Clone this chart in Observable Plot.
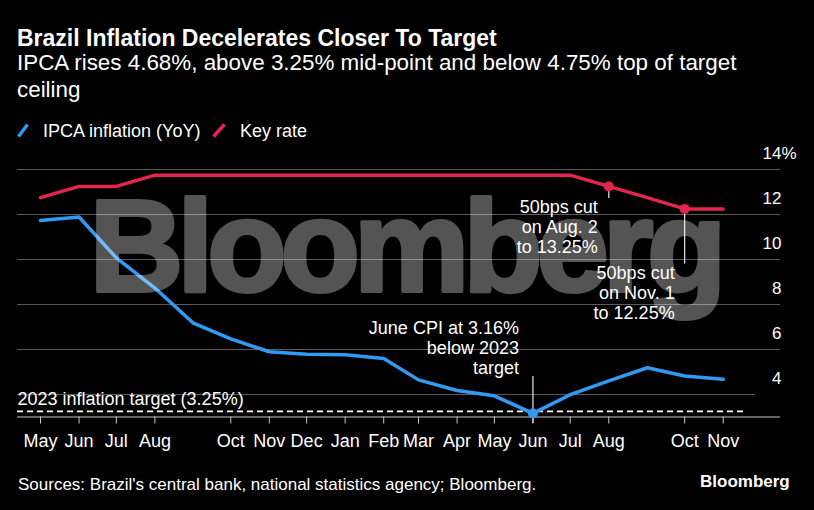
<!DOCTYPE html>
<html><head><meta charset="utf-8">
<script src="https://cdn.jsdelivr.net/npm/d3@7"></script>
<script src="https://cdn.jsdelivr.net/npm/@observablehq/plot@0.6"></script>
<style>
html,body{margin:0;padding:0;background:#000;}
body{width:814px;height:510px;position:relative;overflow:hidden;font-family:"Liberation Sans",Arial,sans-serif;color:#fff;}
.t{position:absolute;left:17px;white-space:nowrap;}
#title{top:26.5px;font-size:23px;line-height:23px;font-weight:bold;}
#sub{top:48.7px;font-size:22.4px;line-height:27px;}
.leg{position:absolute;top:121.5px;font-size:18px;line-height:18px;white-space:nowrap;display:flex;align-items:center;}
.leg svg{margin-right:14px;}
#chart{position:absolute;left:0;top:142px;}
#foot{top:475.6px;font-size:17px;line-height:17px;left:18px;}
#logo{position:absolute;top:473px;left:700px;font-size:17px;font-weight:bold;line-height:17px;}
</style></head><body>
<div id="title" class="t">Brazil Inflation Decelerates Closer To Target</div>
<div id="sub" class="t">IPCA rises 4.68%, above 3.25% mid-point and below 4.75% top of target<br>ceiling</div>
<div class="leg" style="left:17px"><svg width="12" height="15"><line x1="1.5" y1="13.5" x2="10.5" y2="1.5" stroke="#2f9bf2" stroke-width="3.5"/></svg>IPCA inflation (YoY)</div>
<div class="leg" style="left:212px"><svg width="14" height="15"><line x1="1.5" y1="13.5" x2="12.5" y2="1.5" stroke="#e3264b" stroke-width="3.5"/></svg>Key rate</div>
<div id="chart"></div>
<div id="foot" class="t">Sources: Brazil's central bank, national statistics agency; Bloomberg.</div>
<div id="logo">Bloomberg</div>
<script>
// ---- data ----
const months = [
  "2022-05-01","2022-06-01","2022-07-01","2022-08-01","2022-09-01","2022-10-01","2022-11-01",
  "2022-12-01","2023-01-01","2023-02-01","2023-03-01","2023-04-01","2023-05-01","2023-06-01",
  "2023-07-01","2023-08-01","2023-09-01","2023-10-01","2023-11-01"
].map(d => new Date(d + "T00:00:00Z"));
const ipca = [11.73, 11.89, 10.07, 8.73, 7.17, 6.47, 5.90, 5.79, 5.77, 5.60, 4.65, 4.18, 3.94, 3.16, 3.99, 4.61, 5.19, 4.82, 4.68];
const keyRate = [12.75, 13.25, 13.25, 13.75, 13.75, 13.75, 13.75, 13.75, 13.75, 13.75, 13.75, 13.75, 13.75, 13.75, 13.75, 13.25, 12.75, 12.25, 12.25];
const xTicks = [
  "2022-05-01","2022-06-01","2022-07-01","2022-08-01","2022-10-01","2022-11-01","2022-12-01",
  "2023-01-01","2023-02-01","2023-03-01","2023-04-01","2023-05-01","2023-06-01","2023-07-01",
  "2023-08-01","2023-10-01","2023-11-01"
].map(d => new Date(d + "T00:00:00Z"));
const yDomain = [3, 14];
const yTicks = [4, 6, 8, 10, 12, 14];
const target = [{value: 3.25, label: "2023 inflation target (3.25%)"}];
const cutAug = [{date: new Date("2023-08-01T00:00:00Z"), value: 13.25, label: "50bps cut\non Aug. 2\nto 13.25%"}];
const cutNov = [{date: new Date("2023-10-01T00:00:00Z"), value: 12.25, label: "50bps cut\non Nov. 1\nto 12.25%"}];
const cpiNote = [{date: new Date("2023-06-01T00:00:00Z"), value: 3.16, label: "June CPI at 3.16%\nbelow 2023\ntarget"}];
const watermark = ["Bloomberg"];

const rows = months.map((d, i) => ({date: d, ipca: ipca[i], rate: keyRate[i]}));
const BLUE = "#2f9bf2", RED = "#e3264b", GRID = "#5a5a5a", AXIS = "#c8c8c8";
const FONT = "'Liberation Sans', Arial, sans-serif";

const chart = Plot.plot({
  width: 814, height: 312,
  marginLeft: 17, marginRight: 34, marginTop: 27, marginBottom: 37.5,
  x: {type: "utc", domain: d3.extent(months), insetLeft: 23, insetRight: 57.3},
  y: {domain: yDomain, axis: null},
  style: {background: "transparent", color: "white", fontFamily: FONT, fontSize: "16px"},
  marks: [
    Plot.ruleY(yTicks.filter(v => v !== d3.min(yTicks)), {stroke: GRID, strokeWidth: 1}),
    Plot.ruleY([d3.min(yTicks)], {stroke: GRID, strokeWidth: 1, insetRight: 25}),
    Plot.ruleY([yDomain[0]], {stroke: AXIS, strokeWidth: 1}),
    Plot.axisX(xTicks, {tickSize: 7, tickPadding: 10, tickFormat: d3.utcFormat("%b"), stroke: AXIS, fill: "white", fontSize: 18, label: null}),
    Plot.axisY(yTicks, {anchor: "right", tickSize: 0, tickPadding: 0, textAnchor: "end", dx: 1, dy: -16, fontSize: 17, fill: "white", label: null}),
    Plot.text([d3.max(yTicks)], {y: d => d, text: () => "%", frameAnchor: "right", textAnchor: "start", dx: 1, dy: -16, fontSize: 17, fill: "white"}),
    Plot.ruleY(target, {y: "value", stroke: "white", strokeWidth: 1.8, strokeDasharray: "6,4", insetRight: 35}),
    Plot.text(target, {y: "value", text: "label", frameAnchor: "left", textAnchor: "start", dy: -12.5, fontSize: 18, fill: "white"}),
    Plot.line(rows, {x: "date", y: "rate", stroke: RED, strokeWidth: 3.5}),
    Plot.line(rows, {x: "date", y: "ipca", stroke: BLUE, strokeWidth: 3.5}),
    Plot.ruleX(cutAug, {x: "date", y1: "value", y2: "value", insetBottom: -12, stroke: "#e8e8e8", strokeWidth: 1.2}),
    Plot.ruleX(cutNov, {x: "date", y1: "value", y2: "value", insetBottom: -55, stroke: "#e8e8e8", strokeWidth: 1.2}),
    Plot.ruleX(cpiNote, {x: "date", y1: "value", y2: "value", insetTop: -37, insetBottom: -10, stroke: "#e8e8e8", strokeWidth: 1.2}),
    Plot.dot(cutAug.concat(cutNov), {x: "date", y: "value", r: 5, fill: RED}),
    Plot.dot(cpiNote, {x: "date", y: "value", r: 5, fill: BLUE}),
    Plot.text(watermark, {text: d => d, frameAnchor: "middle", dx: 9, dy: -44, fontSize: 130, fontWeight: "bold", fill: "white", stroke: "white", strokeWidth: 4, opacity: 0.33}),
    Plot.text(cutAug, {x: "date", y: "value", text: "label", textAnchor: "end", lineAnchor: "top", lineHeight: 1.111, dx: -11, dy: 12, fontSize: 18, fill: "white"}),
    Plot.text(cutNov, {x: "date", y: "value", text: "label", textAnchor: "end", lineAnchor: "top", lineHeight: 1.111, dx: -10, dy: 56, fontSize: 18, fill: "white"}),
    Plot.text(cpiNote, {x: "date", y: "value", text: "label", textAnchor: "end", lineAnchor: "top", lineHeight: 1.111, dx: -14, dy: -93.5, fontSize: 18, fill: "white"})
  ]
});
d3.select(chart).selectAll("text").filter(function() { return this.textContent === "Bloomberg"; })
  .attr("textLength", 637).attr("lengthAdjust", "spacing");
document.getElementById("chart").appendChild(chart);
</script>
</body></html>
